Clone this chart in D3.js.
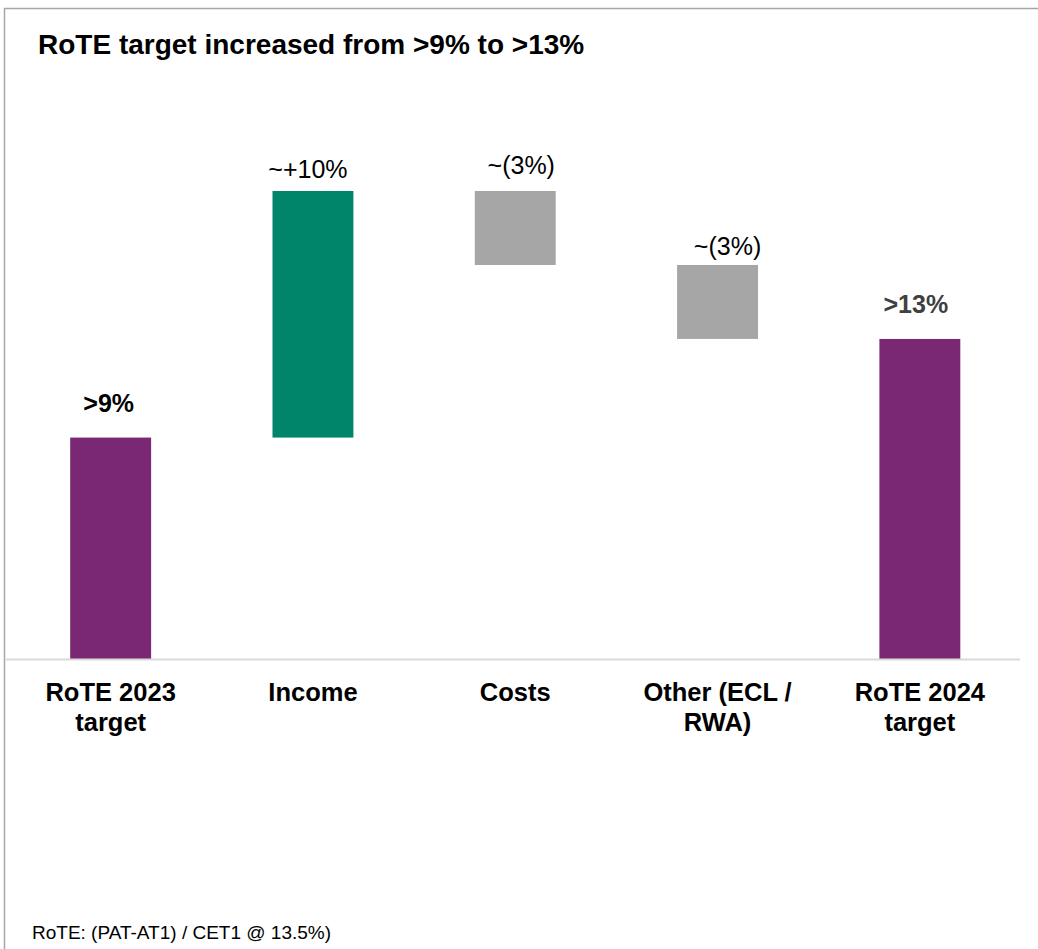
<!DOCTYPE html>
<html>
<head>
<meta charset="utf-8">
<script src="https://cdn.jsdelivr.net/npm/d3@7/dist/d3.min.js"></script>
<style>
  html, body { margin: 0; padding: 0; background: #fff; }
  svg { display: block; }
  text { font-family: "Liberation Sans", Arial, sans-serif; }
</style>
</head>
<body>
<svg id="chart" width="1038" height="949"></svg>
<script>
// Waterfall: RoTE 2023 target -> drivers -> RoTE 2024 target (in % points)
const categories = [["RoTE 2023", "target"], ["Income"], ["Costs"], ["Other (ECL /", "RWA)"], ["RoTE 2024", "target"]];
const values = [9, 10, -3, -3, 13];
const kinds = ["total", "delta", "delta", "delta", "total"];
const valueLabels = [">9%", "~+10%", "~(3%)", "~(3%)", ">13%"];
const title = "RoTE target increased from >9% to >13%";
const footnote = "RoTE: (PAT-AT1) / CET1 @ 13.5%)";

// Styling for each label (horizontal nudge, gap above bar, weight, colour)
const labelStyle = [
  { dx: -2, gap: 26, weight: "bold", fill: "#000" },
  { dx: -5, gap: 13, weight: "normal", fill: "#000" },
  { dx: 6, gap: 17, weight: "normal", fill: "#000" },
  { dx: 10, gap: 10, weight: "normal", fill: "#000" },
  { dx: -4, gap: 26, weight: "bold", fill: "#404040" }
];

const colors = { total: "#7b2874", up: "#00846a", down: "#a6a6a6" };

// Build running start/end for each step
let running = 0;
const steps = values.map((v, i) => {
  let start, end;
  if (kinds[i] === "total") { start = 0; end = v; running = v; }
  else { start = running; end = running + v; running = end; }
  return { i, start, end, v, kind: kinds[i] };
});

const svg = d3.select("#chart");

// Frame
svg.append("path")
  .attr("d", "M4.5,949 L4.5,8.5 L1038,8.5")
  .attr("fill", "none").attr("stroke", "#a6a6a6").attr("stroke-width", 1.5);

svg.append("text")
  .attr("x", 38).attr("y", 54)
  .attr("font-size", 28).attr("font-weight", "bold").attr("fill", "#000")
  .text(title);

const x = d3.scaleBand()
  .domain(d3.range(values.length))
  .range([9.5, 1021])
  .paddingInner(0.6)
  .paddingOuter(0.3);

const yMax = d3.max(steps, d => Math.max(d.start, d.end));
const y = d3.scaleLinear().domain([0, yMax]).range([659.5, 191]);

// Bars
svg.append("g").selectAll("rect")
  .data(steps).join("rect")
  .attr("x", d => x(d.i))
  .attr("width", x.bandwidth())
  .attr("y", d => y(Math.max(d.start, d.end)))
  .attr("height", d => Math.abs(y(d.start) - y(d.end)))
  .attr("fill", d => d.kind === "total" ? colors.total : (d.v >= 0 ? colors.up : colors.down));

// Baseline
svg.append("line")
  .attr("x1", 6).attr("x2", 1020)
  .attr("y1", y(0)).attr("y2", y(0))
  .attr("stroke", "#d9d9d9").attr("stroke-width", 2);

// Value labels
svg.append("g").selectAll("text")
  .data(steps).join("text")
  .attr("x", d => x(d.i) + x.bandwidth() / 2 + labelStyle[d.i].dx)
  .attr("y", d => y(Math.max(d.start, d.end)) - labelStyle[d.i].gap)
  .attr("text-anchor", "middle")
  .attr("font-size", 25)
  .attr("font-weight", d => labelStyle[d.i].weight)
  .attr("fill", d => labelStyle[d.i].fill)
  .text(d => valueLabels[d.i]);

// Category axis labels
const xAxis = svg.append("g");
categories.forEach((lines, i) => {
  const t = xAxis.append("text")
    .attr("x", x(i) + x.bandwidth() / 2)
    .attr("y", 701)
    .attr("text-anchor", "middle")
    .attr("font-size", 25.5)
    .attr("font-weight", "bold")
    .attr("fill", "#000");
  lines.forEach((ln, k) => {
    t.append("tspan")
      .attr("x", x(i) + x.bandwidth() / 2)
      .attr("dy", k === 0 ? 0 : 30)
      .text(ln);
  });
});

svg.append("text")
  .attr("x", 32).attr("y", 939)
  .attr("font-size", 19).attr("fill", "#000")
  .text(footnote);
</script>
</body>
</html>
